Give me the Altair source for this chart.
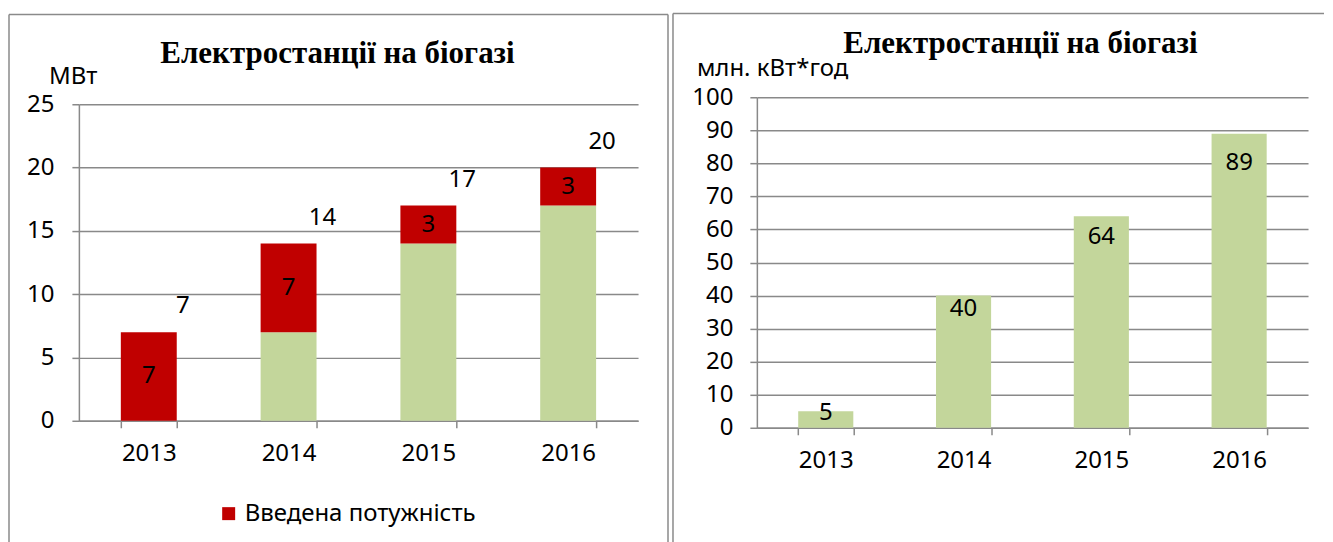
import altair as alt
import pandas as pd

# ---- data ----
years = ["2013", "2014", "2015", "2016"]
base_mw = [0, 7, 14, 17]
added_mw = [7, 7, 3, 3]
total_mw = [7, 14, 17, 20]
gen_mln_kwh = [5, 40, 64, 89]
left_ticks = [0, 5, 10, 15, 20, 25]
right_ticks = [0, 10, 20, 30, 40, 50, 60, 70, 80, 90, 100]

series_base = "Існуюча потужність"
series_added = "Введена потужність"
title_text = "Електростанції на біогазі"
left_unit = "МВт"
right_unit = "млн. кВт*год"

RED = "#C00000"
GREEN = "#C3D69B"
GRID = "#898989"
BORDER = "#8a8a8a"
FONT = "Noto Sans"
TFONT = "Liberation Serif"
FS = 24
TFS = 31

stack_rows = []
for y, b, a in zip(years, base_mw, added_mw):
    stack_rows.append({"year": y, "series": series_base, "value": b, "ord": 0})
    stack_rows.append({"year": y, "series": series_added, "value": a, "ord": 1})
stack_df = pd.DataFrame(stack_rows)
left_df = pd.DataFrame({"year": years, "base": base_mw, "added": added_mw, "total": total_mw})
right_df = pd.DataFrame({"year": years, "value": gen_mln_kwh})
one = pd.DataFrame({"k": [0]})

LW, LH = 560, 317
RW, RH = 552, 331

x_scale = alt.Scale(paddingInner=0.6, paddingOuter=0.3)
x_axis = alt.Axis(labelAngle=0, tickBand="extent", grid=False, tickSize=7, labelPadding=14)


def xenc():
    return alt.X("year:N", title=None, sort=years, scale=x_scale, axis=x_axis)


yl_scale = alt.Scale(domain=[0, 25], nice=False)
yl_axis = alt.Axis(values=left_ticks, grid=True, tickSize=7, labelPadding=18, labelOverlap=False)
yr_scale = alt.Scale(domain=[0, 100], nice=False)
yr_axis = alt.Axis(values=right_ticks, grid=True, tickSize=7, labelPadding=17, labelOverlap=False)

# ---------- left panel ----------
bars_l = alt.Chart(stack_df).mark_bar().encode(
    x=xenc(),
    y=alt.Y("value:Q", stack="zero", title=None, scale=yl_scale, axis=yl_axis),
    color=alt.Color("series:N",
                    scale=alt.Scale(domain=[series_added, series_base], range=[RED, GREEN]),
                    legend=alt.Legend(values=[series_added], orient="none", legendX=138, legendY=398,
                                      title=None, symbolType="square", symbolSize=169,
                                      symbolStrokeWidth=0, labelFont=FONT, labelFontSize=FS,
                                      labelColor="black", labelOffset=4, labelLimit=0)),
    order=alt.Order("ord:Q"),
)

added_lbl = alt.Chart(left_df).transform_calculate(
    mid="datum.base + datum.added / 2"
).mark_text(font=FONT, fontSize=FS, color="black", baseline="middle").encode(
    x=xenc(), y=alt.Y("mid:Q", title=None, scale=yl_scale, axis=yl_axis),
    text=alt.Text("added:Q"),
)

total_lbl = alt.Chart(left_df).mark_text(
    font=FONT, fontSize=FS, color="black", baseline="middle", dx=34, dy=-26
).encode(x=xenc(), y=alt.Y("total:Q", title=None, scale=yl_scale, axis=yl_axis),
         text=alt.Text("total:Q"))

title_l = alt.Chart(one).mark_text(
    text=title_text, font=TFONT, fontSize=TFS, fontWeight="bold", color="black",
    baseline="alphabetic"
).encode(x=alt.value(259), y=alt.value(-41))
unit_l = alt.Chart(one).mark_text(
    text=left_unit, font=FONT, fontSize=FS, color="black", baseline="alphabetic", align="left"
).encode(x=alt.value(-30), y=alt.value(-20))

b_top_l = alt.Chart(one).mark_rule(color=BORDER, strokeWidth=1.5).encode(
    x=alt.value(-70), x2=alt.value(590), y=alt.value(-90))
b_left_l = alt.Chart(one).mark_rule(color=BORDER, strokeWidth=1.5).encode(
    x=alt.value(-70), y=alt.value(-90), y2=alt.value(440))
b_right_l = alt.Chart(one).mark_rule(color=BORDER, strokeWidth=1.5).encode(
    x=alt.value(590), y=alt.value(-90), y2=alt.value(440))

left = alt.layer(bars_l, added_lbl, total_lbl, title_l, unit_l,
                 b_top_l, b_left_l, b_right_l).properties(width=LW, height=LH)

# ---------- right panel ----------
bars_r = alt.Chart(right_df).mark_bar(color=GREEN).encode(
    x=xenc(),
    y=alt.Y("value:Q", title=None, scale=yr_scale, axis=yr_axis),
)
lbl_r = alt.Chart(right_df).transform_calculate(
    pos="max(datum.value - 9.7, datum.value * 0.9)"
).mark_text(font=FONT, fontSize=FS, color="black", baseline="middle").encode(
    x=xenc(), y=alt.Y("pos:Q", title=None, scale=yr_scale, axis=yr_axis),
    text=alt.Text("value:Q"))

title_r = alt.Chart(one).mark_text(
    text=title_text, font=TFONT, fontSize=TFS, fontWeight="bold", color="black",
    baseline="alphabetic"
).encode(x=alt.value(264), y=alt.value(-44))
unit_r = alt.Chart(one).mark_text(
    text=right_unit, font=FONT, fontSize=FS, color="black", baseline="alphabetic", align="left"
).encode(x=alt.value(-60), y=alt.value(-21))

b_top_r = alt.Chart(one).mark_rule(color=BORDER, strokeWidth=1.5).encode(
    x=alt.value(-84), x2=alt.value(568), y=alt.value(-84))
b_left_r = alt.Chart(one).mark_rule(color=BORDER, strokeWidth=1.5).encode(
    x=alt.value(-84), y=alt.value(-84), y2=alt.value(446))

right = alt.layer(bars_r, lbl_r, title_r, unit_r, b_top_r, b_left_r).properties(width=RW, height=RH)

chart = alt.hconcat(left, right, spacing=119, bounds="flush", center=True).resolve_scale(
    color="independent"
).properties(
    padding={"left": 0, "top": 4, "right": 0, "bottom": 0},
    background="white",
).configure_view(stroke=None).configure_axis(
    labelFont=FONT, labelFontSize=FS, labelColor="black",
    gridColor=GRID, gridWidth=1.5, domainColor=GRID, domainWidth=1.5,
    tickColor=GRID, tickWidth=1.5,
)

chart.save("out.html", embed_options={"renderer": "svg", "actions": False})
